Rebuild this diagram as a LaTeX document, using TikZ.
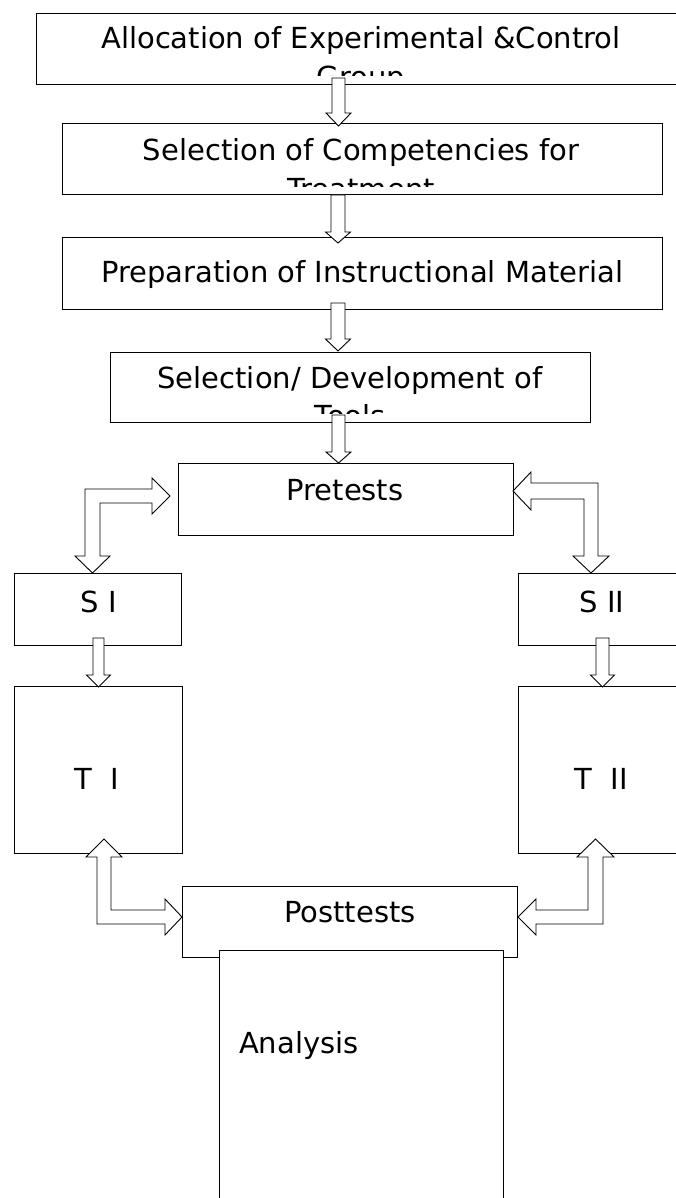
\documentclass[tikz,border=0pt]{standalone}
\usepackage{fontspec}
\setmainfont{DejaVu Sans}
\usetikzlibrary{calc}
\tikzset{
  box/.style={draw=black, line width=0.9pt, fill=white, inner sep=0pt, outer sep=0pt},
  txt/.style={anchor=base, inner sep=0pt, outer sep=0pt, font=\fontsize{29}{35}\selectfont},
  blk/.style={draw=black, fill=white, line width=0.9pt, line join=miter}
}
\newcommand\vblock[5]{\draw[blk] ($(#1)+(-#3,0)$) -- ($(#1)+(#3,0)$) -- ($(#2)+(#3,-#5)$) -- ($(#2)+(#4,-#5)$) -- (#2) -- ($(#2)+(-#4,-#5)$) -- ($(#2)+(-#3,-#5)$) -- cycle;}
\begin{document}
\begin{tikzpicture}[x=1pt, y=-1pt]
\useasboundingbox (0,0) rectangle (676,1198);
\fill[white] (0,0) rectangle (676,1198);

% boxes
\node[box, minimum width=650, minimum height=71] (b1) at (361,48.5) {};
\node[box, minimum width=600, minimum height=71] (b2) at (362,158.5) {};
\node[box, minimum width=600, minimum height=72] (b3) at (362,273) {};
\node[box, minimum width=480, minimum height=70] (b4) at (350,387.5) {};
\node[box, minimum width=335, minimum height=72] (pre) at (345.5,499) {};
\node[box, minimum width=167, minimum height=72] (s1) at (97.5,609) {};
\node[box, minimum width=172, minimum height=72] (s2) at (604,609) {};
\node[box, minimum width=168, minimum height=167] (t1) at (98,769.5) {};
\node[box, minimum width=172, minimum height=167] (t2) at (604,769.5) {};
\node[box, minimum width=335, minimum height=71] (post) at (349.5,921.5) {};
\node[box, minimum width=284, minimum height=260] (ana) at (361,1080) {};

% texts (clipped to the inner area of their boxes)
\begin{scope}
  \clip (b1.north west) rectangle ($(b1.south east)+(0,-8)$);
  \node[txt] (b1t1) at (361,49) {Allocation of Experimental \&Control};
  \node[txt] (b1t2) at (361,88) {Group};
\end{scope}
\begin{scope}
  \clip (b2.north west) rectangle ($(b2.south east)+(0,-7)$);
  \node[txt] (b2t1) at (361,161) {Selection of Competencies for};
  \node[txt] (b2t2) at (361,200) {Treatment};
\end{scope}
\node[txt] (b3t1) at (362,282) {Preparation of Instructional Material};
\begin{scope}
  \clip (b4.north west) rectangle ($(b4.south east)+(0,-9)$);
  \node[txt] (b4t1) at (350,388) {Selection/ Development of};
  \node[txt] (b4t2) at (350,426) {Tools};
\end{scope}
\node[txt] (pret) at (345,500) {Pretests};
\node[txt] (s1t) at (99,612) {S I};
\node[txt] (s2t) at (602,612) {S II};
\node[txt] (t1t) at (97,789) {T~~I};
\node[txt] (t2t) at (601,789) {T~~II};
\node[txt] (postt) at (350,922) {Posttests};
\node[txt, anchor=base west] (anat) at (239,1053) {Analysis};

% straight block arrows
\coordinate (a1s) at (338.5,78);  \coordinate (a1e) at (338.5,126);
\coordinate (a2s) at (338,195);   \coordinate (a2e) at (338,243);
\coordinate (a3s) at (338,303);   \coordinate (a3e) at (338,351);
\coordinate (a4s) at (338.5,415); \coordinate (a4e) at (338.5,463);
\coordinate (a5s) at (98.5,638);  \coordinate (a5e) at (98.5,687);
\coordinate (a6s) at (602.5,638); \coordinate (a6e) at (602.5,687);
\vblock{a1s}{a1e}{6.5}{12.5}{13}
\vblock{a2s}{a2e}{7}{12.5}{11}
\vblock{a3s}{a3e}{7}{12.5}{12}
\vblock{a4s}{a4e}{6.5}{12.5}{11}
\vblock{a5s}{a5e}{5.5}{12}{12}
\vblock{a6s}{a6e}{6.5}{12}{12}

% bent double-headed block arrows
\draw[blk] (170,496) -- (152,478) -- (152,489) -- (85,489) -- (85,556) -- (75,556)
  -- (92.5,573) -- (110,556) -- (100,556) -- (100,503) -- (152,503) -- (152,514) -- cycle;
\draw[blk] (513,491) -- (531,472) -- (531,483) -- (598,483) -- (598,556) -- (609,556)
  -- (591,573) -- (573,556) -- (584,556) -- (584,499) -- (531,499) -- (531,510) -- cycle;
\draw[blk] (104,839) -- (122,857) -- (111,857) -- (111,910) -- (165,910) -- (165,899)
  -- (182,917) -- (165,935) -- (165,924) -- (97,924) -- (97,857) -- (86,857) -- cycle;
\draw[blk] (595.5,839) -- (614,857) -- (603,857) -- (603,924) -- (536,924) -- (536,935)
  -- (518,917) -- (536,899) -- (536,910) -- (588,910) -- (588,857) -- (577,857) -- cycle;
\end{tikzpicture}
\end{document}
